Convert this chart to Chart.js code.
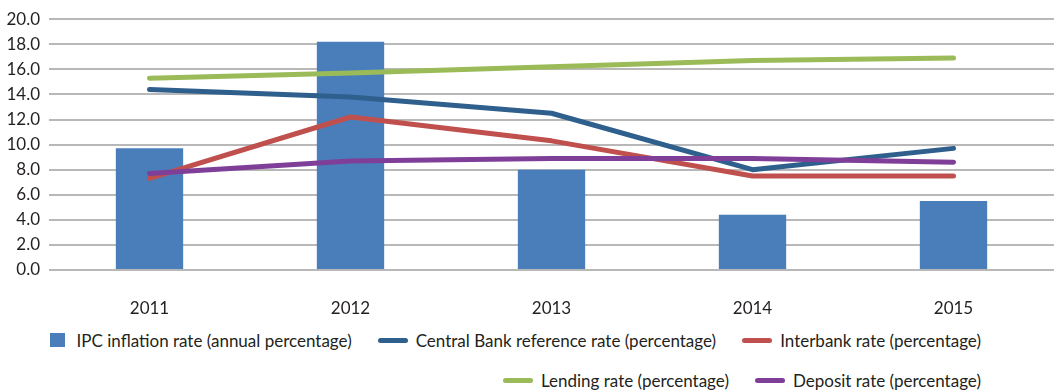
<!DOCTYPE html>
<html>
<head>
    <title>Inflation and interest rates 2011-2015</title>
    <script src="https://cdn.jsdelivr.net/npm/chart.js"></script>
    <style>
        body { margin: 0; background: #fff; font-family: Lato, sans-serif; }
        .wrap { position: relative; width: 1055px; height: 390px; }
        #ratesChart { position: absolute; left: 0; top: 0; }
        .legend { position: absolute; right: 74px; top: 328px; color: #231f20; font-size: 17px; }
        .legend .row { display: flex; justify-content: flex-end; align-items: center; height: 24px; margin-bottom: 16px; }
        .legend .item { display: flex; align-items: center; margin-left: 26px; }
        .legend .box { width: 15px; height: 14px; margin-right: 12px; }
        .legend .line { width: 30px; height: 5px; border-radius: 3px; margin-right: 8px; }
    </style>
</head>
<body>
    <div class="wrap">
        <canvas id="ratesChart" width="1055" height="320"></canvas>
        <div class="legend" id="legend"></div>
    </div>

    <script>
        const years = ['2011', '2012', '2013', '2014', '2015'];
        const inflation = [9.7, 18.2, 8.0, 4.4, 5.5];
        const centralBank = [14.4, 13.8, 12.5, 8.0, 9.7];
        const interbank = [7.3, 12.2, 10.3, 7.5, 7.5];
        const lending = [15.3, 15.7, 16.2, 16.7, 16.9];
        const deposit = [7.7, 8.7, 8.9, 8.9, 8.6];

        const textColor = '#231f20';
        const font = { family: 'Lato, sans-serif', size: 17 };

        function lineSet(label, data, color, order) {
            return {
                type: 'line', label: label, data: data, order: order,
                borderColor: color, backgroundColor: color, borderWidth: 5,
                borderCapStyle: 'round', borderJoinStyle: 'round',
                pointRadius: 0, tension: 0, fill: false
            };
        }

        const chart = new Chart(document.getElementById('ratesChart').getContext('2d'), {
            type: 'bar',
            data: {
                labels: years,
                datasets: [
                    { label: 'IPC inflation rate (annual percentage)', data: inflation, order: 5,
                      backgroundColor: '#4a7ebb', barPercentage: 0.335, categoryPercentage: 1 },
                    lineSet('Central Bank reference rate (percentage)', centralBank, '#2f5f8c', 4),
                    lineSet('Interbank rate (percentage)', interbank, '#c0504d', 3),
                    lineSet('Lending rate (percentage)', lending, '#9bbb59', 2),
                    lineSet('Deposit rate (percentage)', deposit, '#7f3f98', 1)
                ]
            },
            options: {
                responsive: false,
                animation: false,
                layout: { padding: { top: 17, right: 1, bottom: 0, left: 0 } },
                plugins: { legend: { display: false }, tooltip: { enabled: false } },
                scales: {
                    x: {
                        offset: true,
                        grid: { display: false },
                        border: { display: false },
                        ticks: { color: textColor, font: font, padding: 20 },
                        afterFit: s => { s.height = 50; }
                    },
                    y: {
                        min: 0, max: 20,
                        border: { display: false },
                        grid: { color: '#b8b8b8', lineWidth: 2, drawTicks: false },
                        ticks: { stepSize: 2, color: textColor, font: font, padding: 9,
                                 callback: v => v.toFixed(1) },
                        afterFit: s => { s.width = 49; }
                    }
                }
            }
        });

        // legend: first three entries on the top row, the rest below
        const legend = document.getElementById('legend');
        const rows = [chart.data.datasets.slice(0, 3), chart.data.datasets.slice(3)];
        rows.forEach(sets => {
            const row = document.createElement('div');
            row.className = 'row';
            sets.forEach(ds => {
                const item = document.createElement('div');
                item.className = 'item';
                const swatch = document.createElement('span');
                swatch.className = ds.type === 'line' ? 'line' : 'box';
                swatch.style.background = ds.type === 'line' ? ds.borderColor : ds.backgroundColor;
                item.appendChild(swatch);
                item.appendChild(document.createTextNode(ds.label));
                row.appendChild(item);
            });
            legend.appendChild(row);
        });
    </script>
</body>
</html>
